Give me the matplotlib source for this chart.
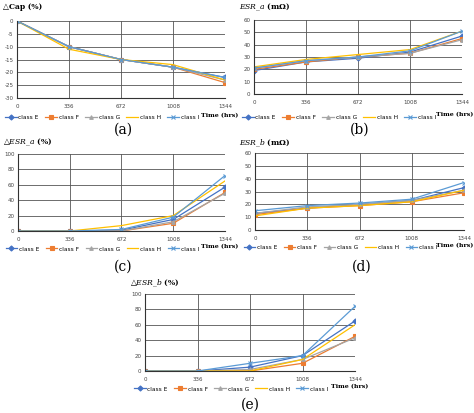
import matplotlib
matplotlib.use("Agg")
import matplotlib.pyplot as plt

W, H = 474, 413

hours = [0, 336, 672, 1008, 1344]
classes = ["class E", "class F", "class G", "class H", "class I"]
colors = ["#4472C4", "#ED7D31", "#A5A5A5", "#FFC000", "#5B9BD5"]
markers = ["D", "s", "^", None, "x"]

# (a) capacitance change, %
cap_E = [0, -10, -15, -18, -22]
cap_F = [0, -10, -15, -18, -24]
cap_G = [0, -10, -15, -18, -23]
cap_H = [0, -11, -15, -17, -23]
cap_I = [0, -10, -15, -18, -22]

# (b) ESR_a, mOhm
esra_E = [19, 26, 29, 34, 47]
esra_F = [20, 26, 30, 33, 45]
esra_G = [21, 27, 30, 33, 44]
esra_H = [22, 28, 32, 36, 51]
esra_I = [21, 27, 30, 35, 51]

# (c) ESR_a change, %
desra_E = [0, 0, 1, 15, 57]
desra_F = [0, 0, 0, 10, 50]
desra_G = [0, 0, 0, 12, 49]
desra_H = [0, 0, 7, 20, 65]
desra_I = [0, 0, 2, 18, 72]

# (d) ESR_b, mOhm
esrb_E = [13, 17, 20, 23, 33]
esrb_F = [12, 17, 19, 22, 29]
esrb_G = [13, 18, 20, 23, 31]
esrb_H = [11, 17, 19, 22, 31]
esrb_I = [15, 19, 21, 24, 37]

# (e) ESR_b change, %
desrb_E = [0, 0, 5, 20, 65]
desrb_F = [0, 0, 0, 10, 45]
desrb_G = [0, 0, 2, 15, 43]
desrb_H = [0, 0, 0, 15, 60]
desrb_I = [0, 0, 10, 20, 84]

plt.rcParams["axes.unicode_minus"] = False
plt.rcParams["mathtext.fontset"] = "dejavuserif"

fig = plt.figure(figsize=(W / 100, H / 100), dpi=100)
serif = ["DejaVu Serif"]


def panel(box, series, ylim, yticks, title, title_xy, label, label_xy, leg_y, time_xy):
    l, r, t, b = box
    ax = fig.add_axes([l / W, 1 - b / H, (r - l) / W, (b - t) / H])
    for ys, c, m, name in zip(series, colors, markers, classes):
        ax.plot(hours, ys, color=c, lw=0.9, marker=m, ms=2.6 if m != "x" else 3.2,
                mew=0.8, label=name)
    ax.set_xlim(0, 1344)
    ax.set_ylim(*ylim)
    ax.set_xticks(hours)
    ax.set_yticks(yticks)
    ax.grid(True, color="#555555", lw=0.6)
    for s in ax.spines.values():
        s.set_visible(False)
    ax.spines["left"].set_visible(True)
    ax.spines["bottom"].set_visible(True)
    ax.spines["left"].set_color("#333333")
    ax.spines["bottom"].set_color("#333333")
    ax.tick_params(labelsize=4, length=0, colors="#444444")
    ax.tick_params(axis="x", pad=4)
    ax.tick_params(axis="y", pad=2.5)
    fig.text(title_xy[0] / W, 1 - title_xy[1] / H, title, fontsize=5.5,
             family=serif, weight="bold", va="center", ha="left")
    fig.text(label_xy[0] / W, 1 - label_xy[1] / H, label, fontsize=10,
             family=serif, va="center", ha="center")
    fig.text(time_xy[0] / W, 1 - time_xy[1] / H, "Time (hrs)", fontsize=4.5,
             family=serif, weight="bold", va="center", ha="center")
    ax.legend(loc="center", bbox_to_anchor=(((l + r) / 2 - 19) / W, 1 - leg_y / H),
              bbox_transform=fig.transFigure, ncol=5, frameon=False, fontsize=4.2,
              handlelength=2.0, columnspacing=1.1, handletextpad=0.3, borderpad=0)
    return ax


panel((17, 225, 21, 98), [cap_E, cap_F, cap_G, cap_H, cap_I], (-30, 0),
      range(-30, 1, 5), "\u25b3Cap (%)", (3, 7), "(a)", (123, 130), 117, (220, 116))

panel((254, 462, 20, 94), [esra_E, esra_F, esra_G, esra_H, esra_I], (0, 60),
      range(0, 61, 10), "$\\mathit{ESR\\_a}$ (m\u03a9)", (239, 7), "(b)", (360, 130), 117, (455, 115))

panel((18, 225, 154, 231), [desra_E, desra_F, desra_G, desra_H, desra_I], (0, 100),
      range(0, 101, 20), "\u25b3$\\mathit{ESR\\_a}$ (%)", (3, 142), "(c)", (123, 267), 249, (220, 247))

panel((255, 464, 153, 230), [esrb_E, esrb_F, esrb_G, esrb_H, esrb_I], (0, 60),
      range(0, 61, 10), "$\\mathit{ESR\\_b}$ (m\u03a9)", (239, 143), "(d)", (362, 267), 247, (455, 246))

panel((145, 355, 294, 371), [desrb_E, desrb_F, desrb_G, desrb_H, desrb_I], (0, 100),
      range(0, 101, 20), "\u25b3$\\mathit{ESR\\_b}$ (%)", (130, 283), "(e)", (250, 405), 389, (350, 387))

fig.savefig("out.png", dpi=100)
